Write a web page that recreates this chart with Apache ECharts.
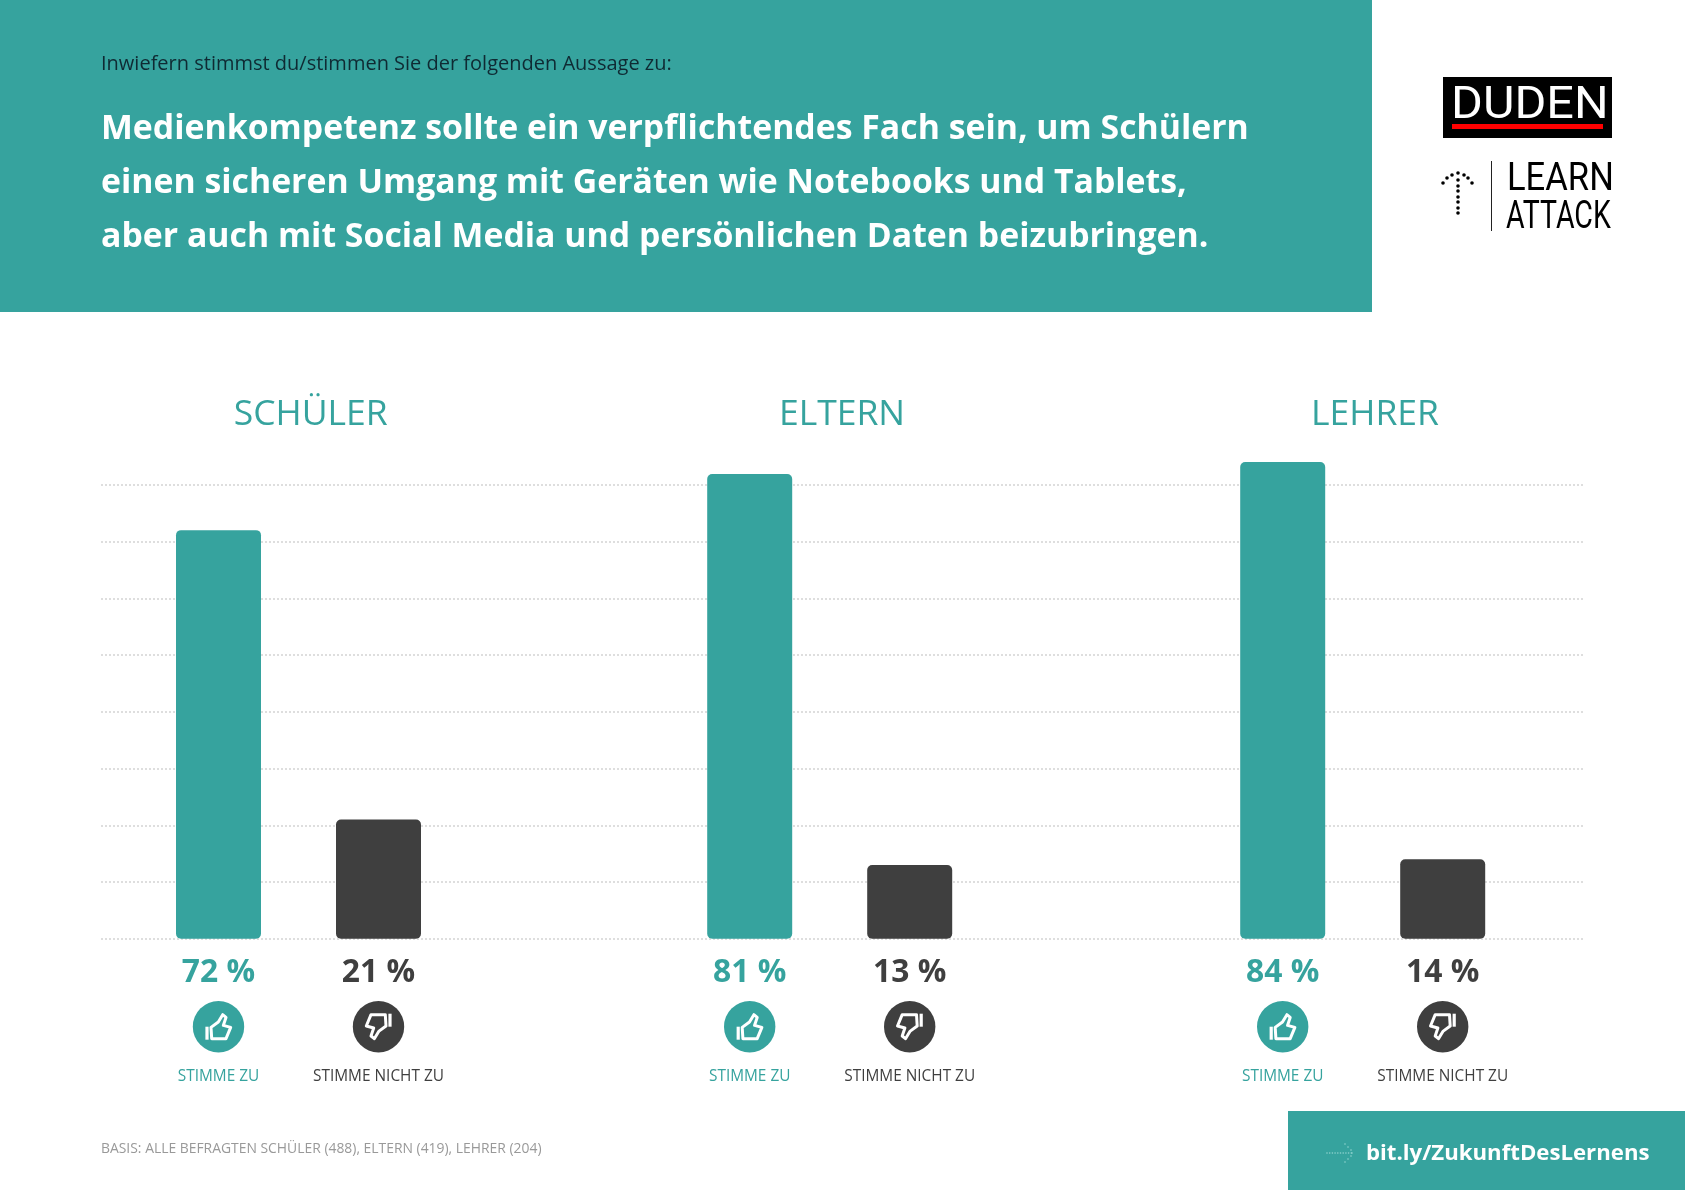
<!DOCTYPE html>
<html><head><meta charset="utf-8">
<style>html,body{margin:0;padding:0;background:#fff}#c{width:1685px;height:1191px}</style>
<script src="https://cdn.jsdelivr.net/npm/echarts@6/dist/echarts.min.js"></script>
</head><body><div id="c"></div>
<script>
const categories = ['STIMME ZU', 'STIMME NICHT ZU'];
const groups = ['SCHÜLER', 'ELTERN', 'LEHRER'];
const schueler = [72, 21];
const eltern = [81.9, 13];
const lehrer = [84, 14];
const schuelerLabels = ['72 %', '21 %'];
const elternLabels = ['81 %', '13 %'];
const lehrerLabels = ['84 %', '14 %'];
const intro = 'Inwiefern stimmst du/stimmen Sie der folgenden Aussage zu:';
const headline = [
  'Medienkompetenz sollte ein verpflichtendes Fach sein, um Schülern',
  'einen sicheren Umgang mit Geräten wie Notebooks und Tablets,',
  'aber auch mit Social Media und persönlichen Daten beizubringen.'
];
const basis = 'BASIS: ALLE BEFRAGTEN SCHÜLER (488), ELTERN (419), LEHRER (204)';
const link = 'bit.ly/ZukunftDesLernens';

const TEAL = '#36a39e', DARK = '#3f3f3f', FONT = '"Open Sans"';
const values = [schueler, eltern, lehrer];
const labels = [schuelerLabels, elternLabels, lehrerLabels];
const gridLefts = [138.5, 669.7, 1202.7];
const titleX = [305.7, 837, 1370];
const gridTop = 428, gridH = 510.75;
const TOP_OF_AXIS = 90;

const grids = [{left: 101, width: 1482, top: gridTop, height: gridH}];
const xAxes = [{gridIndex: 0, type: 'value', show: false, min: 0, max: 1}];
const yAxes = [{gridIndex: 0, type: 'value', min: 0, max: TOP_OF_AXIS, interval: 10,
  axisLine: {show: false}, axisTick: {show: false}, axisLabel: {show: false},
  splitLine: {show: true, showMaxLine: false, lineStyle: {color: '#dedede', width: 2, type: [2, 2]}}}];
const series = [];
groups.forEach((g, i) => {
  const n = i + 1;
  grids.push({left: gridLefts[i], width: 320, top: gridTop, height: gridH});
  xAxes.push({gridIndex: n, type: 'category', data: categories,
    axisLine: {show: false}, axisTick: {show: false},
    axisLabel: {interval: 0, margin: 13, fontFamily: FONT,
      formatter: (v, idx) => {
        const s = idx === 0 ? 'T' : 'D';
        return `{val${s}|${labels[i][idx]}}\n{gap|}\n{name${s}|${v}}`;
      },
      rich: {
        valT: {fontFamily: FONT, fontWeight: 700, fontSize: 31.8, color: TEAL, lineHeight: 42, align: 'center'},
        valD: {fontFamily: FONT, fontWeight: 700, fontSize: 31.8, color: DARK, lineHeight: 42, align: 'center'},
        gap: {fontSize: 10, lineHeight: 68},
        nameT: {fontFamily: FONT, fontSize: 15.4, color: TEAL, lineHeight: 30, align: 'center'},
        nameD: {fontFamily: FONT, fontSize: 15.4, color: DARK, lineHeight: 30, align: 'center'}
      }}});
  yAxes.push({gridIndex: n, type: 'value', min: 0, max: TOP_OF_AXIS, interval: 10, show: false, splitLine: {show: false}});
  series.push({name: g, type: 'bar', xAxisIndex: n, yAxisIndex: n, barWidth: 85, silent: true, z: 3,
    data: values[i].map((v, k) => ({value: v, itemStyle: {color: k === 0 ? TEAL : DARK, borderRadius: 5}}))});
});

const titles = groups.map((g, i) => ({text: g, left: titleX[i], top: 392, textAlign: 'center',
  textStyle: {fontFamily: FONT, fontWeight: 400, fontSize: 35.5, color: TEAL}}));

function txt(x, y, text, size, weight, fill, extra, scaleX) {
  return {type: 'text', x, y, scaleX: scaleX || 1, silent: true, z: 10, style: Object.assign({text, fontFamily: FONT, fontSize: size, fontWeight: weight, fill, textVerticalAlign: 'middle'}, extra || {})};
}
const decor = [
  {type: 'rect', shape: {x: 0, y: 0, width: 1372, height: 312}, style: {fill: TEAL}, silent: true},
  {type: 'rect', shape: {x: 1288, y: 1111, width: 397, height: 79}, style: {fill: TEAL}, silent: true},
  txt(101, 64, intro, 20, 400, '#0f2a33'),
  txt(101, 129, headline[0], 33.8, 700, '#fff'),
  txt(101, 183, headline[1], 33.8, 700, '#fff'),
  txt(101, 237, headline[2], 33.8, 700, '#fff'),
  txt(101, 1149, basis, 13.9, 400, '#999'),
  txt(1366, 1154, link, 22.2, 700, '#fff'),
  {type: 'rect', shape: {x: 1443, y: 77, width: 169, height: 61}, style: {fill: '#000'}, silent: true},
  {type: 'rect', shape: {x: 1452, y: 124, width: 151, height: 5}, style: {fill: '#f00'}, silent: true},
  txt(1451, 107, 'DUDEN', 45, 400, '#fff', {fontFamily: 'Roboto'}, 1.08),
  {type: 'rect', shape: {x: 1491, y: 161, width: 1, height: 70}, style: {fill: '#222'}, silent: true},
  txt(1507, 180, 'LEARN', 38, 400, '#000', {fontFamily: 'Roboto'}, 0.91),
  txt(1506, 218, 'ATTACK', 38, 400, '#000', {fontFamily: 'Roboto'}, 0.75)
];
[[1458,173],[1452,175],[1447,178],[1443,183],[1464,175],[1468,178],[1472,183],[1458,180],[1458,186],[1458,191],[1458,197],[1458,202],[1458,208],[1458,213]]
  .forEach(p => decor.push({type: 'circle', shape: {cx: p[0], cy: p[1], r: 1.8}, style: {fill: '#000'}, silent: true}));
[0,1,2,3,4,5,6,7,8,9].forEach(k => decor.push({type: 'circle', shape: {cx: 1327 + k * 2.7, cy: 1153, r: .8}, style: {fill: '#8fd3cf'}, silent: true}));
[[1345,1144],[1348,1147],[1351,1150],[1352,1153],[1351,1156],[1348,1159],[1345,1162]]
  .forEach(p => decor.push({type: 'circle', shape: {cx: p[0], cy: p[1], r: .8}, style: {fill: '#8fd3cf'}, silent: true}));

const chart = echarts.init(document.getElementById('c'), null, {renderer: 'canvas'});
chart.setOption({animation: false, backgroundColor: '#fff', title: titles, grid: grids, xAxis: xAxes, yAxis: yAxes, series, graphic: {elements: decor}});

const hand = [[-7.5,0.7],[-0.2,-4.7],[4.2,-12],[7.5,-9.3],[4.8,-1.3],[12.2,0.7],[7.5,12],[-6.8,12]];
const icons = [];
groups.forEach((g, i) => categories.forEach((c, k) => {
  const x = chart.convertToPixel({xAxisIndex: i + 1}, c);
  const rot = k === 0 ? 0 : Math.PI;
  icons.push({type: 'circle', silent: true, z: 5, shape: {cx: x, cy: 1026.7, r: 25.7}, style: {fill: k === 0 ? TEAL : DARK}});
  icons.push({type: 'polygon', silent: true, z: 6, x, y: 1026.7, rotation: rot,
    shape: {points: hand},
    style: {fill: 'none', stroke: '#fff', lineWidth: 3, lineJoin: 'round'}});
  icons.push({type: 'line', silent: true, z: 6, x, y: 1026.7, rotation: rot,
    shape: {x1: -11.5, y1: 0, x2: -11.5, y2: 13},
    style: {stroke: '#fff', lineWidth: 3.2}});
}));
chart.setOption({graphic: {elements: decor.concat(icons)}});
</script></body></html>
